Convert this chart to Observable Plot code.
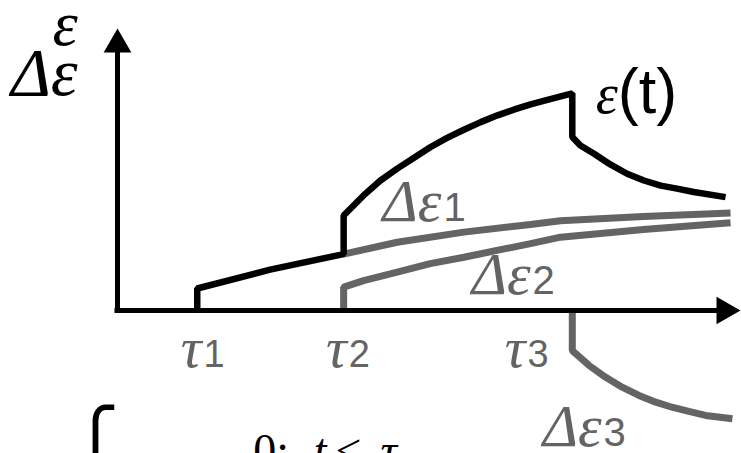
<!DOCTYPE html>
<html>
<head>
<meta charset="utf-8">
<script src="https://cdn.jsdelivr.net/npm/d3@7"></script>
<script src="https://cdn.jsdelivr.net/npm/@observablehq/plot@0.6"></script>
<style>
  html, body { margin: 0; padding: 0; background: #fff; }
  svg { display: block; }
</style>
</head>
<body>
<script>
// Creep strain under three load steps applied at τ1, τ2, τ3 (schematic units).
const tau = [12.8, 36.3, 73.0];
const tauNames = ["1", "2", "3"];

// Total strain ε(t)
const epsT = [12.8, 12.8, 24.5, 36.3, 36.3, 39.5, 42.2, 44.9, 47.6, 50.2, 52.9, 55.6, 58.3, 61.0, 63.6, 66.3, 69.0, 73.0,
              73.0, 74.3, 76.5, 79.1, 81.8, 84.5, 87.2, 89.8, 92.5, 97.6];
const epsV = [0, 7.8, 14.5, 20.0, 33.7, 40.8, 46.1, 50.3, 54.2, 57.9, 61.2, 64.1, 66.8, 69.2, 71.2, 73.1, 74.7, 77.0,
              61.5, 58.5, 55.6, 51.8, 48.5, 46.1, 44.3, 43.2, 42.0, 40.2];

// Strain increments Δε1, Δε2, Δε3
const d1T = [36.3, 44.9, 55.6, 66.3, 71.1, 84.4, 98.4];
const d1V = [20.0, 24.2, 27.8, 30.5, 31.8, 33.3, 34.6];
const d2T = [36.3, 36.3, 39.5, 44.9, 50.2, 55.6, 60.9, 66.3, 71.1, 84.4, 98.4];
const d2V = [0, 8.3, 10.6, 13.6, 16.6, 18.9, 21.3, 23.7, 26.0, 28.7, 31.1];
const d3T = [73.0, 73.0, 75.7, 78.3, 81.0, 83.7, 86.4, 89.0, 91.7, 94.4, 98.7];
const d3V = [0, -14.2, -19.5, -23.6, -27.2, -30.1, -32.5, -34.3, -35.8, -37.2, -38.4];

// Label anchors (in the same t / strain units)
const tauLabelT = [13.5, 36.8, 65.5];
const tauLabelV = -20.2;
const partLabelT = [52.0, 66.3, 77.7];
const partLabelV = [31.6, 5.7, -47.9];

const pts = (ts, vs) => ts.map((t, i) => ({t, v: vs[i]}));
const eps = pts(epsT, epsV);
const parts = [pts(d1T, d1V), pts(d2T, d2V), pts(d3T, d3V)];

const black = "#000";
const grey = "#646464";
const serif = "Liberation Serif";
const sans = "Liberation Sans";

const lineStyle = {x: "t", y: "v", strokeWidth: 6.5, strokeLinejoin: "miter", strokeLinecap: "butt"};
const label = (opts) => ({lineAnchor: "bottom", ...opts});

const chart = Plot.plot({
  width: 741,
  height: 453,
  margin: 0,
  x: {domain: [0, 100], range: [117, 740], axis: null},
  y: {domain: [0, 100], range: [310, 28], axis: null},
  marks: [
    // increments
    ...parts.map(p => Plot.line(p, {...lineStyle, stroke: grey, strokeWidth: 7})),
    // total strain
    Plot.line(eps, {...lineStyle, stroke: black}),
    // axes with filled arrow heads
    Plot.ruleY([0], {x1: 0, x2: 97, stroke: black, strokeWidth: 5, strokeLinecap: "square"}),
    Plot.ruleX([0], {y1: 0, y2: 95, stroke: black, strokeWidth: 5, strokeLinecap: "square"}),
    Plot.dot([{t: 100, v: 0}], {x: "t", y: "v", symbol: "triangle", r: 10.3, rotate: 90, dx: -16, fill: black, stroke: null}),
    Plot.dot([{t: 0, v: 100}], {x: "t", y: "v", symbol: "triangle", r: 10.3, dy: 16, fill: black, stroke: null}),
    // axis title
    Plot.text(["ε"], label({x: -6.4, y: 94.0, text: d => d, textAnchor: "end",
      fontFamily: serif, fontStyle: "italic", fontSize: 64, fill: black})),
    Plot.text(["Δε"], label({x: -6.4, y: 76.3, text: d => d, textAnchor: "end",
      fontFamily: serif, fontStyle: "italic", fontSize: 68, fill: black})),
    // ε(t) label
    Plot.text(["ε"], label({x: 80.3, y: 70.2, text: d => d, textAnchor: "end",
      fontFamily: serif, fontStyle: "italic", fontSize: 56, fill: black})),
    Plot.text(["(t)"], label({x: 80.3, y: 70.2, text: d => d, textAnchor: "start",
      fontFamily: sans, fontSize: 63, fill: black})),
    // τ labels
    Plot.text(tauNames, label({x: (d, i) => tauLabelT[i], y: tauLabelV, text: () => "τ", textAnchor: "end",
      fontFamily: serif, fontStyle: "italic", fontSize: 58, fill: grey})),
    Plot.text(tauNames, label({x: (d, i) => tauLabelT[i], y: tauLabelV, text: d => d, textAnchor: "start",
      dx: 2, fontFamily: sans, fontSize: 38, fill: grey})),
    // Δε labels
    Plot.text(tauNames, label({x: (d, i) => partLabelT[i], y: (d, i) => partLabelV[i], text: () => "Δε", textAnchor: "end",
      fontFamily: serif, fontStyle: "italic", fontSize: 60, fill: grey})),
    Plot.text(tauNames, label({x: (d, i) => partLabelT[i], y: (d, i) => partLabelV[i], text: d => d, textAnchor: "start",
      dx: 2, fontFamily: sans, fontSize: 40, fill: grey})),
    // piecewise definition below the chart
    Plot.text(["⎧"], label({x: -7.4, y: -54.6, text: d => d, textAnchor: "start",
      fontFamily: "DejaVu Sans", fontSize: 64, fill: black})),
    Plot.text(["0;"], label({x: 21.8, y: -55.3, text: d => d, textAnchor: "start",
      fontFamily: serif, fontSize: 46, fill: black})),
    Plot.text(["t"], label({x: 31.5, y: -55.3, text: d => d, textAnchor: "start",
      fontFamily: serif, fontStyle: "italic", fontSize: 46, fill: black})),
    Plot.text(["<"], label({x: 35.0, y: -55.3, text: d => d, textAnchor: "start",
      fontFamily: serif, fontSize: 46, fill: black})),
    Plot.text(["τ"], label({x: 42.2, y: -55.3, text: d => d, textAnchor: "start",
      fontFamily: serif, fontStyle: "italic", fontSize: 46, fill: black}))
  ]
});

document.body.appendChild(chart);
</script>
</body>
</html>
